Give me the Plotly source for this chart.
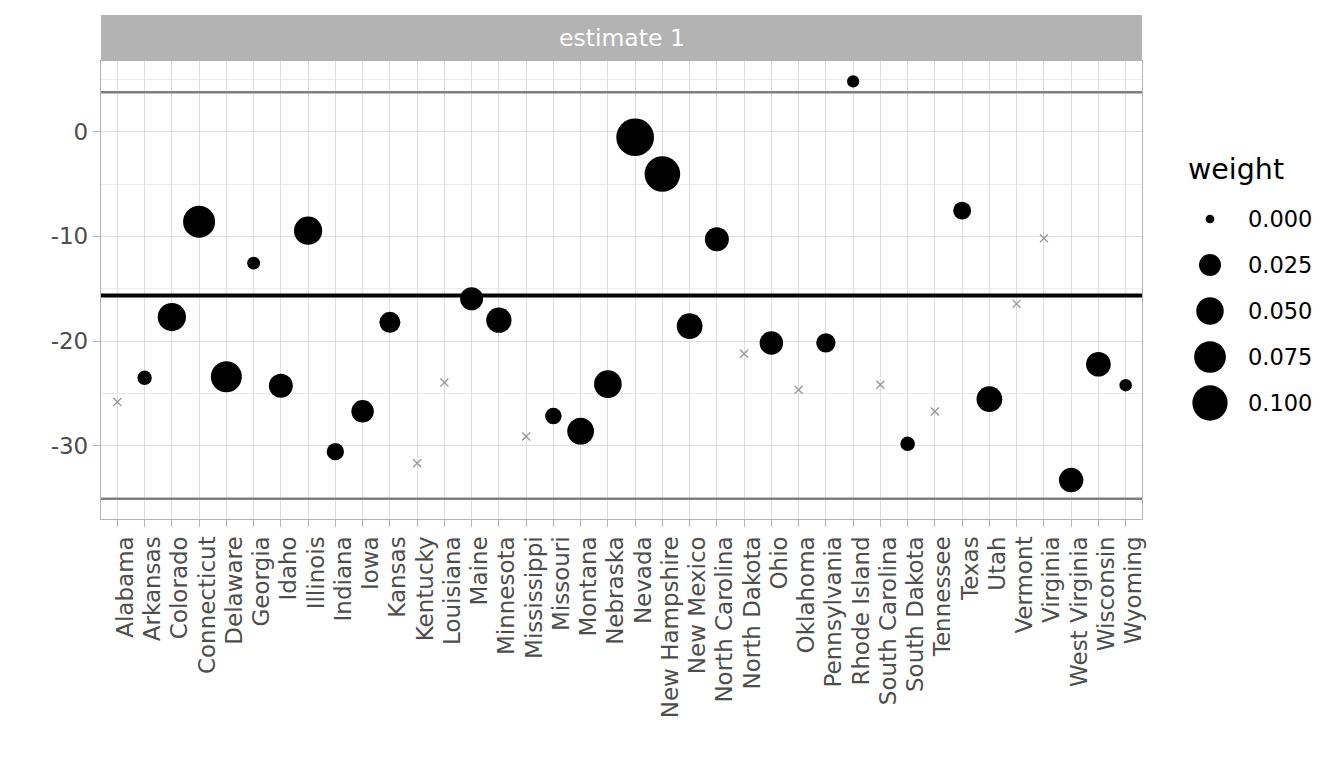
import numpy as np
import plotly.graph_objects as go

states = ["Alabama", "Arkansas", "Colorado", "Connecticut", "Delaware", "Georgia", "Idaho",
          "Illinois", "Indiana", "Iowa", "Kansas", "Kentucky", "Louisiana", "Maine",
          "Minnesota", "Mississippi", "Missouri", "Montana", "Nebraska", "Nevada",
          "New Hampshire", "New Mexico", "North Carolina", "North Dakota", "Ohio",
          "Oklahoma", "Pennsylvania", "Rhode Island", "South Carolina", "South Dakota",
          "Tennessee", "Texas", "Utah", "Vermont", "Virginia", "West Virginia",
          "Wisconsin", "Wyoming"]
estimate = [-25.8, -23.5, -17.7, -8.6, -23.4, -12.55, -24.25, -9.45, -30.55, -26.7,
            -18.2, -31.65, -23.95, -15.95, -18.0, -29.1, -27.15, -28.6, -24.1, -0.53,
            -4.04, -18.57, -10.27, -21.2, -20.18, -24.65, -20.16, 4.8, -24.17, -29.8,
            -26.72, -7.54, -25.54, -16.44, -10.17, -33.26, -22.2, -24.2]
weight = [0.0, 0.0046, 0.054, 0.077, 0.070, 0.0024, 0.033, 0.054, 0.0105, 0.027,
          0.0215, 0.0, 0.0, 0.029, 0.039, 0.0, 0.0086, 0.046, 0.051, 0.119,
          0.103, 0.041, 0.033, 0.0, 0.031, 0.0, 0.016, 0.0017, 0.0, 0.0049,
          0.0, 0.012, 0.041, 0.0, 0.0, 0.035, 0.036, 0.002]
weighted_mean = -15.65
band_lines = [3.76, -35.05]
legend_breaks = [0.0, 0.025, 0.050, 0.075, 0.100]
legend_labels = ["0.000", "0.025", "0.050", "0.075", "0.100"]
y_ticks = [-30, -20, -10, 0]
strip_label = "estimate 1"
legend_title = "weight"

FONT = "DejaVu Sans"
OFF = 8  # page body margin of the browser
W, H = 1344 - OFF, 768 - OFF
ML, MT = 101 - OFF, 61 - OFF
PANEL_W = 1041
PANEL_H = 458
MR = 0
MB = H - MT - PANEL_H
PW, PH = W - ML - MR, PANEL_H
TICK_SIZE = 23


def dsize(w):
    return 8.7 + 84.0 * np.sqrt(np.asarray(w, dtype=float))


w_arr = np.asarray(weight)
pos = w_arr > 0
xs = np.array(states)
ys = np.array(estimate)

fig = go.Figure()

fig.add_trace(go.Scatter(
    x=xs[pos], y=ys[pos], mode="markers",
    marker=dict(color="black", size=dsize(w_arr[pos]), line=dict(width=0), opacity=1),
    showlegend=False, cliponaxis=False))
fig.add_trace(go.Scatter(
    x=xs[~pos], y=ys[~pos], mode="markers",
    marker=dict(symbol="x-thin", color="#999999", size=8, opacity=1,
                line=dict(width=1.4, color="#999999")),
    showlegend=False))

for v in band_lines:
    fig.add_shape(type="line", xref="x domain", x0=0, x1=1, yref="y", y0=v, y1=v,
                  line=dict(color="#7f7f7f", width=2.5))
fig.add_shape(type="line", xref="x domain", x0=0, x1=1, yref="y",
              y0=weighted_mean, y1=weighted_mean, line=dict(color="black", width=4))

# facet strip
fig.add_shape(type="rect", xref="x domain", x0=0, x1=1, yref="paper",
              y0=1, y1=1 + 46 / PH, fillcolor="#b3b3b3", line=dict(width=0), layer="below")
fig.add_annotation(text=strip_label, xref="x domain", x=0.5, yref="paper",
                   y=1 + 23 / PH, showarrow=False, xanchor="center", yanchor="middle",
                   font=dict(family=FONT, size=23.5, color="white"))

# size legend on a hidden pixel-scaled axis pair (coordinates = reference pixels)
lx0 = OFF + ML + 0.86 * PW
fig.add_trace(go.Scatter(
    x=[1210] * len(legend_breaks), y=[219 + 46 * i for i in range(len(legend_breaks))],
    mode="markers",
    marker=dict(color="black", size=dsize(legend_breaks), line=dict(width=0), opacity=1),
    xaxis="x2", yaxis="y2", showlegend=False, cliponaxis=False))
for i, lab in enumerate(legend_labels):
    fig.add_annotation(text=lab, xref="x2", yref="y2", x=1246, y=219 + 46 * i,
                       showarrow=False, xanchor="left", yanchor="middle",
                       font=dict(family=FONT, size=22.5, color="black"))
fig.add_annotation(text=legend_title, xref="x2", yref="y2", x=1186, y=169,
                   showarrow=False, xanchor="left", yanchor="middle",
                   font=dict(family=FONT, size=28.5, color="black"))

fig.update_layout(
    width=W, height=H,
    margin=dict(l=ML, r=MR, t=MT, b=MB, pad=0, autoexpand=False),
    paper_bgcolor="white", plot_bgcolor="white",
    font=dict(family=FONT, color="#4d4d4d"),
    xaxis=dict(domain=[0, PANEL_W / PW], type="category", categoryorder="array",
               categoryarray=states, range=[-0.6, len(states) - 0.4],
               tickmode="array", tickvals=states, ticktext=states, automargin=False,
               showgrid=True, gridcolor="#dedede", gridwidth=1.3,
               showline=True, mirror=True, linecolor="#b3b3b3", linewidth=1.3,
               ticks="outside", ticklen=7, tickwidth=1.3, tickcolor="#b3b3b3",
               tickangle=-90, ticklabelshift=8,
               tickfont=dict(family=FONT, size=TICK_SIZE, color="#4d4d4d"),
               zeroline=False, fixedrange=True),
    yaxis=dict(range=[-36.98, 6.75], tickvals=y_ticks, automargin=False,
               ticktext=[str(t) for t in y_ticks],
               showgrid=True, gridcolor="#dedede", gridwidth=1.3,
               minor=dict(tickvals=[-35, -25, -15, -5, 5], showgrid=True,
                          gridcolor="#ebebeb", gridwidth=0.8, ticks=""),
               showline=True, mirror=True, linecolor="#b3b3b3", linewidth=1.3,
               ticks="outside", ticklen=7, tickwidth=1.3, tickcolor="#b3b3b3",
               tickfont=dict(family=FONT, size=TICK_SIZE, color="#4d4d4d"),
               zeroline=False, fixedrange=True),
    xaxis2=dict(domain=[0.86, 1], anchor="y2", range=[lx0, OFF + W], visible=False,
                fixedrange=True),
    yaxis2=dict(domain=[0, 1], anchor="x2", range=[OFF + MT + PH, OFF + MT],
                visible=False, fixedrange=True),
)

fig.write_html("out.html")
